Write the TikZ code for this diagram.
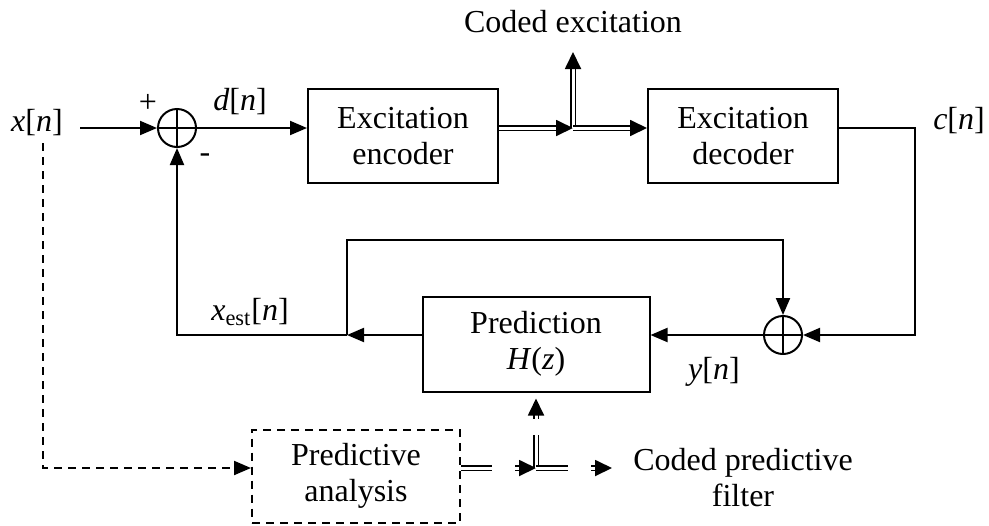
\documentclass[tikz,border=0pt]{standalone}
\usepackage{fontspec}
\setmainfont{Liberation Serif}
\usetikzlibrary{arrows.meta,calc}
\newcommand{\sg}[1]{\textit{#1}[\textit{n}]}

\begin{document}
\begin{tikzpicture}[x=0.5pt, y=-0.5pt, font=\fontsize{16}{18}\selectfont,
  blk/.style={draw, line width=1pt, minimum width=95pt, minimum height=47pt, align=center, inner sep=0pt},
  sum/.style={circle, draw, line width=1pt, minimum size=19pt, inner sep=0pt,
    path picture={\draw[line width=1pt] (path picture bounding box.north) -- (path picture bounding box.south)
      (path picture bounding box.west) -- (path picture bounding box.east);}},
  wire/.style={line width=1pt},
  arr/.style={wire, -{Triangle[length=8.5pt, width=7pt]}},
  dbl/.style={double, double distance=1.5pt, line width=0.9pt},
  dtip/.style={-{Triangle[length=8.5pt, width=8pt]}},
  dsh/.style={dash pattern=on 4pt off 3pt}]
  \useasboundingbox (0,0) rectangle (989,525);

  \node[blk] (enc) at (403,136) {Excitation\\encoder};
  \node[blk] (dec) at (743,136) {Excitation\\decoder};
  \node[blk, minimum width=113.5pt, minimum height=47.5pt] (pred) at (536,344) {Prediction\\\textit{H}(\textit{z})};
  \node[blk, dsh, minimum width=104pt, minimum height=46.5pt] (ana) at (356,476) {Predictive\\analysis};
  \node[sum] (s1) at (177,128) {};
  \node[sum] (s2) at (783,335) {};

  \node (x) at (37,123) {\sg{x}};
  \node (d) at (240,102) {\sg{d}};
  \node (c) at (959,121) {\sg{c}};
  \node (xe) at (250,312) {\textit{x}\textsubscript{est}[\textit{n}]};
  \node (y) at (714,372) {\sg{y}};
  \node (plus) at (148,103) {+};
  \node (minus) at (205,158) {-};
  \node (ce) at (573,22) {Coded excitation};
  \node[align=center] (cp) at (743,478) {Coded predictive\\filter};

  \coordinate (xin) at (80,128);
  \coordinate (j1) at (573,128);
  \coordinate (j1up) at (573,52);
  \coordinate (cr) at (915,335);
  \coordinate (tap) at (347,335);
  \coordinate (fb) at (783,240);
  \coordinate (j2) at (536,468);

  \draw[arr] (xin) -- (s1.west);
  \draw[arr] (s1.east) -- (enc.west |- s1);
  \draw[dbl, dtip] (enc.east |- j1) -- (j1);
  \draw[dbl, dtip] (j1) -- (j1up);
  \draw[dbl, dtip] (j1) -- (dec.west |- j1);
  \draw[arr] (dec.east |- j1) -| (cr) -- (s2.east);
  \draw[arr] (s2.west) -- (pred.east |- s2);
  \draw[arr] (pred.west |- s2) -- (tap);
  \draw[arr] (tap) -| (s1.south);
  \draw[arr] (tap) |- (fb) -- (s2.north);

  \draw[arr, dsh] ([xshift=3pt]x.south) |- (ana.west |- j2);
  \draw[dbl] (ana.east |- j2) -- ($(j2)+(-44,0)$);
  \draw[dbl, dtip] ($(j2)+(-21,0)$) -- (j2);
  \draw[dbl] (j2) -- ($(j2)+(0,-33)$);
  \draw[dbl] (j2) -- ($(j2)+(32,0)$);
  \draw[dbl, dtip] ($(pred.south)+(0,26)$) -- ($(pred.south)+(0,6)$);
  \draw[dbl, dtip] ($(j2)+(55,0)$) -- ($(j2)+(76,0)$);
\end{tikzpicture}
\end{document}
